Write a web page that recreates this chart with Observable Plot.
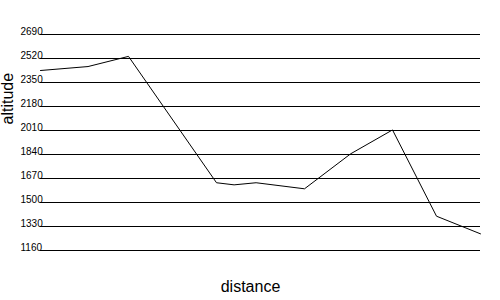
<!DOCTYPE html>
<html>
<head>
<meta charset="utf-8">
<script src="https://cdn.jsdelivr.net/npm/d3@7"></script>
<script src="https://cdn.jsdelivr.net/npm/@observablehq/plot@0.6"></script>
<style>
  html, body { margin: 0; padding: 0; background: #fff; }
</style>
</head>
<body>
<div id="chart"></div>
<script>
const distance = [0, 1.08, 2, 4, 4.4, 4.9, 6, 7.05, 8, 9, 10];
const altitude = [2435, 2463, 2535, 1640, 1625, 1640, 1597, 1845, 2014, 1403, 1278];
const yTicks = [1160, 1330, 1500, 1670, 1840, 2010, 2180, 2350, 2520, 2690];
const xLabel = "distance";
const yLabel = "altitude";

const data = distance.map((d, i) => ({distance: d, altitude: altitude[i]}));
const font = "Liberation Sans, Arial, sans-serif";

const chart = Plot.plot({
  width: 500,
  height: 300,
  marginLeft: 40,
  marginRight: 20,
  marginTop: 34,
  marginBottom: 50,
  style: {fontFamily: font, background: "#fff", color: "#000"},
  x: {domain: [0, 10], axis: null},
  y: {domain: [1160, 2690], axis: null},
  marks: [
    Plot.ruleY(yTicks, {stroke: "#000", strokeWidth: 1}),
    Plot.text(yTicks, {
      y: d => d, text: d => String(d), frameAnchor: "left",
      dx: -20, textAnchor: "start", lineAnchor: "bottom",
      fontSize: 10, fill: "#000"
    }),
    Plot.line(data, {x: "distance", y: "altitude", stroke: "#000", strokeWidth: 1}),
    Plot.text([xLabel], {
      frameAnchor: "bottom", dx: -10, dy: 41, lineAnchor: "bottom",
      fontSize: 16, fill: "#000"
    }),
    Plot.text([yLabel], {
      frameAnchor: "left", dx: -33, dy: -18, rotate: -90,
      lineAnchor: "middle", fontSize: 16, fill: "#000"
    })
  ]
});
document.getElementById("chart").appendChild(chart);
</script>
</body>
</html>
